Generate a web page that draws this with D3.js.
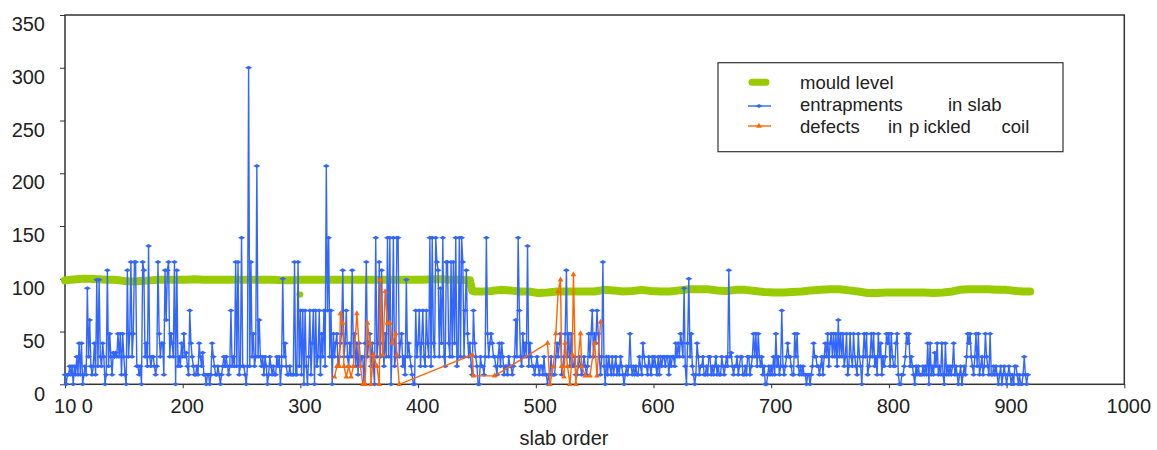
<!DOCTYPE html>
<html>
<head>
<meta charset="utf-8">
<script src="https://cdn.jsdelivr.net/npm/d3@7"></script>
<style>
  body { margin: 0; background: #fff; }
  svg text { font-family: "Liberation Sans", Arial, sans-serif; fill: #222; }
</style>
</head>
<body>
<svg id="chart" width="1157" height="450"></svg>
<script>
// Axis ticks
var xTicks = [100, 200, 300, 400, 500, 600, 700, 800, 900, 1000];
var yTicks = [0, 50, 100, 150, 200, 250, 300, 350];

// Entrapments in slab, one value per slab starting at slab 100
var firstSlab = 100;
var entrapments = [
  9,0,9,9,17,9,17,0,17,9,  26,9,39,9,39,0,9,17,9,91,
  26,61,17,9,17,39,9,99,17,99,  26,17,39,26,0,9,108,17,48,26,
  9,30,26,30,26,48,26,48,9,48,  26,9,0,108,26,48,116,26,48,116,
  116,17,17,9,17,0,116,108,26,39,  17,131,26,17,26,26,17,9,17,116,
  48,26,39,39,9,108,61,108,116,26,  48,39,26,116,0,108,17,26,17,39,
  26,48,26,30,17,9,70,39,26,17,  9,9,17,9,39,26,17,30,9,9,
  0,9,9,0,9,39,26,17,9,9,  17,9,0,9,17,26,17,26,17,9,
  17,70,17,26,17,116,17,116,9,17,  139,17,17,9,0,17,300,17,116,26,
  48,17,26,207,26,61,26,17,26,9,  26,17,0,9,26,17,9,17,9,9,
  26,17,26,0,17,100,26,39,17,9,  9,17,9,9,9,116,9,9,116,17,
  70,9,70,0,70,17,0,26,70,9,  39,70,0,70,17,26,70,9,48,26,
  70,17,207,70,139,26,70,0,48,26,  39,48,17,26,39,48,108,26,39,70,
  26,17,39,26,108,26,48,17,39,9,  39,17,26,26,0,39,116,26,39,48,
  17,39,17,0,139,26,39,116,26,108,  39,17,48,26,139,26,139,0,39,139,
  17,26,139,139,26,39,48,17,26,9,  99,26,39,26,17,9,0,0,70,26,
  39,70,17,39,70,26,17,70,39,26,  139,17,139,39,26,139,116,108,26,91,
  39,139,26,17,116,116,39,26,116,26,  116,39,139,17,26,139,26,139,116,26,
  70,108,48,26,39,17,9,70,39,26,  17,0,0,26,17,17,9,26,139,48,
  26,39,48,39,26,26,17,9,26,39,  17,39,26,9,17,17,9,26,17,17,
  9,17,26,61,26,139,70,26,17,48,  26,39,26,131,17,39,26,17,17,9,
  17,26,17,9,17,17,9,26,9,9,  0,9,9,26,9,9,9,26,39,26,
  39,48,9,17,26,48,108,26,48,17,  48,17,17,26,9,9,17,26,17,9,
  17,26,17,9,17,48,26,48,70,26,  48,39,70,48,26,9,26,116,17,0,
  26,9,26,17,9,26,9,17,26,9,  17,9,26,17,9,0,9,17,9,17,
  48,17,9,17,9,17,9,9,26,17,  9,39,26,17,17,9,26,17,9,26,
  17,26,17,9,26,9,26,17,26,26,  17,26,26,9,26,17,26,26,17,39,
  26,39,26,48,39,26,91,17,0,39,  100,26,48,17,9,0,9,39,26,9,
  17,17,26,9,9,17,9,26,26,9,  17,9,17,26,9,17,9,9,26,17,
  9,17,26,17,108,26,30,17,9,17,  17,26,9,17,26,26,9,9,17,9,
  26,26,9,17,26,48,26,48,17,48,  26,17,26,9,17,0,0,9,17,9,
  17,9,26,9,48,17,26,9,17,70,  17,9,17,26,39,26,26,17,9,9,
  48,26,48,17,9,17,9,17,9,9,  0,9,9,0,9,17,39,26,26,17,
  17,9,17,26,9,26,39,26,48,17,  39,48,26,48,26,48,17,61,26,48,
  26,48,17,26,48,9,17,48,26,17,  48,26,17,9,48,26,17,0,26,48,
  26,48,9,17,26,48,26,48,17,26,  9,48,26,39,9,26,17,26,48,39,
  48,17,48,26,17,17,39,48,9,0,  0,9,9,17,26,48,39,48,17,26,
  17,9,0,17,9,17,9,9,9,17,  9,17,9,39,0,39,9,17,9,30,
  17,39,9,17,9,39,9,0,39,9,  17,9,17,9,17,39,9,17,9,0,
  9,17,0,9,17,9,26,48,39,48,  26,17,9,26,48,17,48,9,17,26,
  9,17,48,26,17,9,48,9,9,17,  9,17,9,0,9,17,0,9,17,9,
  0,9,17,9,0,9,0,17,17,9,  0,9,0,0,9,26,9,0,9
];

// Defects in pickled coil: [slab order, value]
var defects = [
  [329,7],[331,17],[333,17],[334,67],[336,58],[337,17],[339,7],[341,17],[343,7],[345,17],
  [348,67],[351,17],[353,0],[355,0],[357,58],[359,39],[360,0],[362,28],[365,17],[367,0],
  [368,99],[370,28],[372,88],[374,58],[376,58],[378,39],[381,48],[382,28],[384,0],
  [446,28],[447,8],[465,8],[510,39],[512,0],[515,17],[517,48],[519,88],[521,99],[522,17],
  [524,7],[525,39],[527,17],[529,0],[531,28],[532,104],[534,0],[538,48],[539,17],[542,8],
  [546,8],[550,39],[552,8],[555,59]
];

// Mould level: [slab order, value]
var mouldLevel = [
  [100,98.5],[105,99],[110,99.5],[115,100],[120,100],[128,99.5],[135,99],[142,99],[150,98],
  [158,97.5],[165,98],[172,98.5],[180,99],[188,99],[195,99],[202,99],[210,99.5],
  [218,99],[225,99],[232,99],[240,99],[248,99],[255,99],[262,99],[270,99],[278,99],
  [285,98.5],[292,98.5],[300,99],[308,99],[316,99],[324,99],[332,99],[340,99],[348,99],
  [356,99],[364,99],[372,99],[380,99],[388,99],[396,99],[404,99],[412,99.5],[420,99.5],
  [428,99],[436,99],[444,98.5],[446,88.5],[448,88],[455,88],[462,88.5],[470,89.5],
  [478,89],[486,88],[494,88],[502,86.5],[510,87],[518,88],[526,88],[534,88],[542,88],
  [550,88],[558,89.5],[566,89],[574,88],[582,88.5],[590,89.5],[598,88.5],[606,88],
  [614,88],[622,89],[630,90],[638,90],[646,90],[654,89],[662,88.5],[670,89.5],[678,89.5],
  [686,88.5],[694,87.5],[702,87],[710,87],[718,87.5],[726,88],[734,89],[742,89.5],
  [750,90],[758,90],[766,89],[774,88],[782,86.5],[790,86.5],[798,87],[806,87],[814,87],
  [822,87],[830,87],[838,86.5],[846,87],[854,88],[860,89.5],[868,90],[876,90],[884,90],
  [892,89.5],[900,89.5],[908,88.5],[914,88],[920,88]
];
// stray mould level reading below the band
var mouldLevelStray = [[299,85],[300,85]];

var legendLabels = [
  ["mould level"],
  ["entrapments ", "in slab"],
  ["defects ", "in ", "p", "ickled ", "coil"]
];

var blue = "#3366ff", orange = "#ff6600", green = "#99cc00";

var svg = d3.select("#chart");
var plot = {left: 65, right: 1124.3, top: 15, bottom: 384.3};

var x = d3.scaleLinear().domain([100, 1000]).range([plot.left, plot.right]);
var y = d3.scaleLinear().domain([0, 350]).range([plot.bottom, plot.top]);

// Axes
var yAxis = svg.append("g")
  .attr("transform", "translate(" + plot.left + ",0)")
  .call(d3.axisLeft(y).tickValues(yTicks).tickSize(5).tickSizeOuter(0).tickPadding(15));
yAxis.select(".domain").remove();
yAxis.selectAll("line").attr("stroke", "#333");
yAxis.selectAll("text")
  .attr("dy", 15.7)
  .style("font-size", "20px")
  .attr("font-family", null);

var xAxis = svg.append("g")
  .attr("transform", "translate(0," + plot.bottom + ")")
  .call(d3.axisBottom(x).tickValues(xTicks).tickSize(4).tickSizeOuter(0)
    .tickFormat(function(d) { return d === 100 ? "10 0" : d; }));
xAxis.select(".domain").remove();
xAxis.selectAll("line").attr("stroke", "#333");
xAxis.selectAll("text")
  .attr("y", 29)
  .attr("dy", 0)
  .attr("dx", function(d) { return d === 100 ? 8 : 4; })
  .style("font-size", "20px")
  .attr("font-family", null);

// Plot frame
svg.append("rect")
  .attr("x", plot.left).attr("y", plot.top)
  .attr("width", plot.right - plot.left).attr("height", plot.bottom - plot.top)
  .attr("fill", "none").attr("stroke", "#333").attr("stroke-width", 1.5);

// Mould level band
var pairLine = d3.line().x(function(d) { return x(d[0]); }).y(function(d) { return y(d[1]); });
svg.append("path")
  .datum(mouldLevel)
  .attr("fill", "none")
  .attr("stroke", green)
  .attr("stroke-width", 8)
  .attr("stroke-linejoin", "round")
  .attr("stroke-linecap", "round")
  .attr("d", pairLine);
svg.append("path")
  .datum(mouldLevelStray)
  .attr("fill", "none")
  .attr("stroke", green)
  .attr("stroke-width", 6)
  .attr("stroke-linecap", "round")
  .attr("d", pairLine);

// Entrapments in slab
var blueLine = d3.line()
  .x(function(d, i) { return x(firstSlab + i); })
  .y(function(d) { return y(d); });
svg.append("path")
  .datum(entrapments)
  .attr("fill", "none")
  .attr("stroke", blue)
  .attr("stroke-width", 1.4)
  .attr("d", blueLine);
svg.append("g").selectAll("path")
  .data(entrapments)
  .enter().append("path")
  .attr("d", "M-3.5,0L0,-2L3.5,0L0,2Z")
  .attr("fill", blue)
  .attr("transform", function(d, i) { return "translate(" + x(firstSlab + i) + "," + y(d) + ")"; });

// Defects in pickled coil
svg.append("path")
  .datum(defects)
  .attr("fill", "none")
  .attr("stroke", orange)
  .attr("stroke-width", 1.4)
  .attr("d", pairLine);
var tri = d3.symbol().type(d3.symbolTriangle).size(14);
svg.append("g").selectAll("path")
  .data(defects)
  .enter().append("path")
  .attr("d", tri)
  .attr("fill", orange)
  .attr("transform", function(d) { return "translate(" + x(d[0]) + "," + y(d[1]) + ")"; });

// Legend
var legend = svg.append("g");
legend.append("rect")
  .attr("x", 718).attr("y", 62.7).attr("width", 345).attr("height", 89)
  .attr("fill", "#fff").attr("stroke", "#333").attr("stroke-width", 1.2);

var rowY = [82.3, 106, 126];
legend.append("line")
  .attr("x1", 752).attr("x2", 766).attr("y1", rowY[0]).attr("y2", rowY[0])
  .attr("stroke", green).attr("stroke-width", 7).attr("stroke-linecap", "round");
legend.append("line")
  .attr("x1", 748).attr("x2", 771).attr("y1", rowY[1]).attr("y2", rowY[1])
  .attr("stroke", blue).attr("stroke-width", 1.4);
legend.append("path")
  .attr("d", "M-3.5,0L0,-2L3.5,0L0,2Z").attr("fill", blue)
  .attr("transform", "translate(759," + rowY[1] + ")");
legend.append("line")
  .attr("x1", 748).attr("x2", 771).attr("y1", rowY[2]).attr("y2", rowY[2])
  .attr("stroke", orange).attr("stroke-width", 1.4);
legend.append("path")
  .attr("d", tri).attr("fill", orange)
  .attr("transform", "translate(759," + rowY[2] + ")");

var labelX = [[800], [800, 948], [800, 888, 909, 923.5, 1001.5]];
var baseY = [89.3, 111.3, 132.8];
legendLabels.forEach(function(parts, r) {
  var t = legend.append("text").attr("y", baseY[r]).style("font-size", "18.5px");
  parts.forEach(function(p, k) {
    t.append("tspan").attr("x", labelX[r][k]).text(p);
  });
});

// Axis title
svg.append("text")
  .attr("x", 564).attr("y", 445)
  .attr("text-anchor", "middle")
  .style("font-size", "20px")
  .text("slab order");
</script>
</body>
</html>
